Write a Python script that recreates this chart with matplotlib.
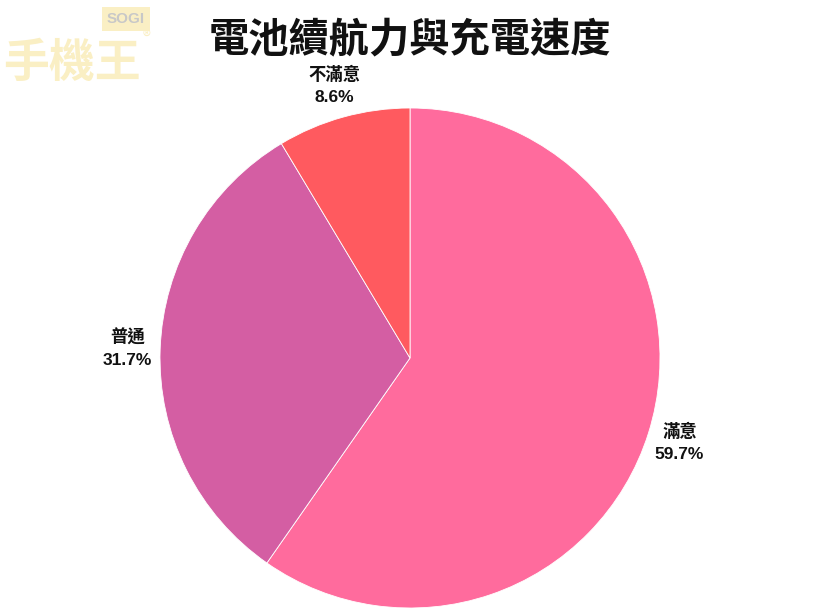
import matplotlib
matplotlib.use("Agg")
import matplotlib.pyplot as plt

plt.rcParams['font.family'] = ['Noto Sans CJK TC', 'DejaVu Sans']

title = "電池續航力與充電速度"
categories = ["滿意", "普通", "不滿意"]
values = [59.7, 31.7, 8.6]
colors = ["#FF6B9D", "#D45EA3", "#FF5A5F"]

fig = plt.figure(figsize=(8.2, 6.15), dpi=100)
ax = fig.add_axes([0, 0, 1, 1])
wedges, texts = ax.pie(values, colors=colors, startangle=90, counterclock=False,
                       labels=[f"{c}\n{v}%" for c, v in zip(categories, values)],
                       labeldistance=1.13,
                       wedgeprops=dict(edgecolor="white", linewidth=0.6),
                       textprops=dict(fontsize=12.5, fontweight="bold", color="#111111",
                                      family=['Liberation Sans', 'Noto Sans CJK TC'],
                                      ha="center", va="center", linespacing=1.6))
ax.set_xlim(-410 / 250, 410 / 250)
ax.set_ylim(-257 / 250, 358 / 250)
ax.set_aspect('auto')
ax.axis('off')

fig.text(0.5, 1 - 40 / 615, title, ha="center", va="center", fontsize=29,
         fontweight="heavy", color="#111111")

# watermark
fig.text(72 / 820, 1 - 64 / 615, "手機王", ha="center", va="center", fontsize=33,
         color="#FAEFC4", fontweight="bold")
fig.text(126 / 820, 1 - 19 / 615, "SOGI", ha="center", va="center", fontsize=11,
         color="#C8C8C8", fontweight="bold", family=['Liberation Sans'],
         bbox=dict(boxstyle="square,pad=0.3", fc="#FAEFC4", ec="none"))
fig.text(147 / 820, 1 - 37 / 615, "®", ha="center", va="center", fontsize=12,
         color="#FAEFC4")

fig.savefig("out.png", dpi=100, facecolor="white")
